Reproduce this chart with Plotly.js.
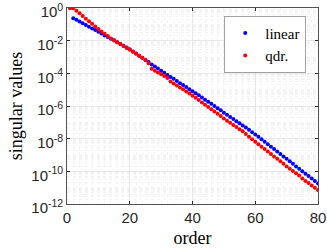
<!DOCTYPE html>
<html>
<head>
<meta charset="utf-8">
<script src="https://cdn.plot.ly/plotly-3.0.1.min.js"></script>
<style>html,body{margin:0;padding:0;background:#fff;}#chart{width:327px;height:248px;}</style>
</head>
<body>
<div id="chart"></div>
<script>
const order = [1,2,3,4,5,6,7,8,9,10,11,12,13,14,15,16,17,18,19,20,21,22,23,24,25,26,27,28,29,30,31,32,33,34,35,36,37,38,39,40,41,42,43,44,45,46,47,48,49,50,51,52,53,54,55,56,57,58,59,60,61,62,63,64,65,66,67,68,69,70,71,72,73,74,75,76,77,78,79,80];
const linearVals = [1, 2.4e-1, 1.9e-1, 1.48e-1, 1.18e-1, 9.1e-2, 7.2e-2, 5.6e-2, 4.5e-2, 3.5e-2,
  2.75e-2, 2.1e-2, 1.7e-2, 1.32e-2, 1.05e-2, 8.1e-3, 6.3e-3, 4.9e-3, 3.8e-3, 2.95e-3,
  2.2e-3, 1.62e-3, 1.2e-3, 8.9e-4, 6.6e-4, 4.9e-4, 3.5e-4, 2.6e-4, 1.95e-4, 1.45e-4,
  1.07e-4, 7.9e-5, 6.0e-5, 4.6e-5, 3.4e-5, 2.5e-5, 1.9e-5, 1.45e-5, 1.07e-5, 8.1e-6,
  6.0e-6, 4.5e-6, 3.3e-6, 2.45e-6, 1.8e-6, 1.35e-6, 1.0e-6, 7.4e-7, 5.4e-7, 3.9e-7,
  2.9e-7, 2.1e-7, 1.6e-7, 1.17e-7, 8.7e-8, 6.5e-8, 4.8e-8, 3.5e-8, 2.5e-8, 1.8e-8,
  1.29e-8, 9.1e-9, 6.5e-9, 4.6e-9, 3.2e-9, 2.3e-9, 1.62e-9, 1.15e-9, 8.1e-10, 5.8e-10,
  4.1e-10, 2.9e-10, 2.0e-10, 1.45e-10, 1.02e-10, 7.2e-11, 5.1e-11, 3.6e-11, 2.6e-11, 1.8e-11];
const qdrVals = [1, 0.98, 6.8e-1, 4.7e-1, 3.2e-1, 2.2e-1, 1.55e-1, 1.07e-1, 7.4e-2, 5.2e-2,
  3.7e-2, 2.7e-2, 1.95e-2, 1.38e-2, 1.02e-2, 7.9e-3, 6.2e-3, 4.7e-3, 3.5e-3, 2.75e-3,
  2.1e-3, 1.6e-3, 1.2e-3, 8.9e-4, 6.5e-4, 4.2e-4, 1.9e-4, 1.45e-4, 1.12e-4, 8.7e-5,
  6.8e-5, 5.2e-5, 3.2e-5, 2.4e-5, 1.8e-5, 1.38e-5, 1.05e-5, 7.8e-6, 5.8e-6, 4.3e-6,
  3.2e-6, 2.3e-6, 1.66e-6, 1.2e-6, 8.7e-7, 6.3e-7, 4.6e-7, 3.3e-7, 2.4e-7, 1.74e-7,
  1.26e-7, 9.3e-8, 6.9e-8, 5.1e-8, 3.8e-8, 2.8e-8, 1.9e-8, 1.29e-8, 9.1e-9, 6.5e-9,
  4.6e-9, 3.2e-9, 2.3e-9, 1.62e-9, 1.15e-9, 8.1e-10, 5.8e-10, 4.1e-10, 2.9e-10, 2.0e-10,
  1.45e-10, 1.05e-10, 7.6e-11, 5.5e-11, 3.6e-11, 2.6e-11, 1.9e-11, 1.38e-11, 1.0e-11, 7.2e-12];
const xTickVals = [0, 20, 40, 60, 80];
const yTickVals = [1, 1e-2, 1e-4, 1e-6, 1e-8, 1e-10, 1e-12];
const yTickText = ['10<sup>0</sup>', '10<sup>-2</sup>', '10<sup>-4</sup>', '10<sup>-6</sup>', '10<sup>-8</sup>', '10<sup>-10</sup>', '10<sup>-12</sup>'];
const seriesNames = ['linear', 'qdr.'];

const serif = 'Liberation Serif, DejaVu Serif, serif';
const sans = 'Liberation Sans, Arial, sans-serif';

const traces = [
  {x: order, y: linearVals, name: seriesNames[0], type: 'scatter', mode: 'markers',
   marker: {color: '#0000ff', size: 4}},
  {x: order, y: qdrVals, name: seriesNames[1], type: 'scatter', mode: 'markers',
   marker: {color: '#ff0000', size: 4}}
];

const layout = {
  width: 327, height: 248,
  margin: {l: 67, r: 9, t: 8, b: 44},
  paper_bgcolor: '#ffffff', plot_bgcolor: '#ffffff',
  showlegend: true,
  legend: {x: 0.95, y: 0.96, xanchor: 'right', yanchor: 'top', bgcolor: '#ffffff',
    bordercolor: '#8c8c8c', borderwidth: 0.8, font: {family: serif, size: 15, color: '#000'},
    tracegroupgap: 0, itemwidth: 30},
  xaxis: {
    range: [0, 80], tickmode: 'array', tickvals: xTickVals,
    ticks: 'inside', ticklen: 3, tickcolor: '#262626',
    showline: true, linecolor: '#262626', linewidth: 0.8, mirror: 'ticks',
    showgrid: true, gridcolor: '#dcdcdc', gridwidth: 0.6,
    zeroline: false, ticklabeloverflow: 'allow',
    tickfont: {family: sans, size: 15, color: '#262626'},
    minor: {dtick: 2, tick0: 0, showgrid: true, gridcolor: '#ececec', griddash: 'dot', gridwidth: 0.6, ticks: ''},
    title: {text: 'order', font: {family: serif, size: 18, color: '#000'}, standoff: 6}
  },
  yaxis: {
    type: 'log', range: [-12.0005, 0.0005], tickmode: 'array', tickvals: yTickVals, ticktext: yTickText,
    ticks: 'inside', ticklen: 3, tickcolor: '#262626',
    showline: true, linecolor: '#262626', linewidth: 0.8, mirror: 'ticks',
    showgrid: true, gridcolor: '#dcdcdc', gridwidth: 0.6,
    zeroline: false, ticklabeloverflow: 'allow', ticklabelshift: 4,
    tickfont: {family: sans, size: 15, color: '#262626'},
    minor: {dtick: 'D1', showgrid: true, gridcolor: '#ececec', griddash: 'dot', gridwidth: 0.6, ticks: ''},
    title: {text: 'singular values', font: {family: serif, size: 18, color: '#000'}, standoff: 3}
  }
};

Plotly.newPlot('chart', traces, layout, {staticPlot: true, displayModeBar: false});
</script>
</body>
</html>
